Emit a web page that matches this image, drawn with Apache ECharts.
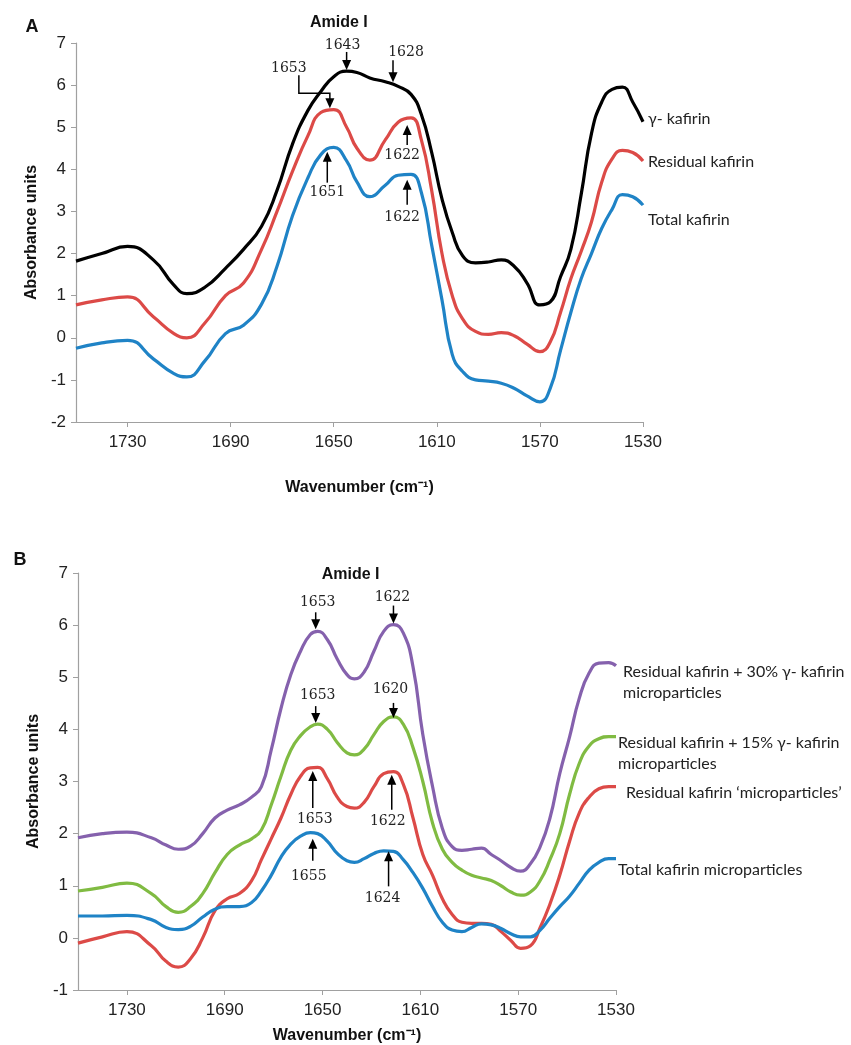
<!DOCTYPE html>
<html><head><meta charset="utf-8">
<script src="https://cdn.jsdelivr.net/npm/echarts@6/dist/echarts.min.js"></script>
<style>html,body{margin:0;padding:0;background:#fff}#c{width:851px;height:1045px}</style>
</head><body><div id="c"></div>
<script>
// ---------- Panel A data ----------
const wavenumbersA = [1750,1740,1730,1720,1712,1707,1700,1692,1685,1678,1672,1666,1660,1655,1650,1645,1641,1636,1630,1625,1620,1616,1612,1608,1604,1600,1595,1590,1585,1580,1575,1570,1566,1562,1558,1554,1550,1546,1542,1538,1534,1530];
const gammaKafirin = [1.82,2.0,2.17,1.85,1.25,1.05,1.2,1.65,2.1,2.65,3.5,4.6,5.4,5.85,6.2,6.33,6.3,6.17,6.08,5.97,5.78,5.3,4.4,3.3,2.5,1.95,1.78,1.8,1.85,1.7,1.3,0.78,0.85,1.45,2.1,3.4,4.85,5.6,5.9,5.95,5.6,5.13];
const residualKafirin = [0.78,0.9,0.97,0.5,0.1,0.0,0.35,1.0,1.3,2.1,3.0,3.95,4.8,5.35,5.42,5.0,4.5,4.22,4.7,5.12,5.22,4.7,3.5,2.0,1.0,0.45,0.15,0.08,0.12,0.05,-0.15,-0.33,-0.1,0.6,1.4,2.05,2.75,3.7,4.25,4.45,4.4,4.2];
const totalKafirin = [-0.25,-0.12,-0.06,-0.5,-0.85,-0.93,-0.55,0.1,0.3,0.8,1.7,2.9,3.8,4.35,4.52,4.2,3.7,3.35,3.62,3.86,3.88,3.45,2.2,0.9,-0.4,-0.8,-1.0,-1.03,-1.08,-1.2,-1.38,-1.52,-1.2,-0.3,0.6,1.4,2.0,2.6,3.05,3.4,3.35,3.15];

// ---------- Panel B data ----------
const wavenumbersB = [1750,1740,1730,1720,1714,1709,1704,1699,1694,1689,1684,1679,1675,1671,1667,1663,1659,1655,1652,1648,1644,1640,1637,1633,1629,1625,1621,1617,1613,1609,1605,1601,1597,1593,1589,1585,1581,1577,1573,1569,1565,1561,1557,1553,1549,1545,1541,1537,1533,1530];
const residual30 = [1.92,2.0,2.03,1.92,1.78,1.70,1.76,2.0,2.3,2.45,2.55,2.7,2.9,3.6,4.4,5.05,5.5,5.82,5.88,5.72,5.35,5.05,4.97,5.1,5.5,5.88,6.01,5.85,5.2,3.9,2.9,2.1,1.75,1.68,1.7,1.72,1.6,1.48,1.35,1.28,1.42,1.75,2.3,3.15,3.85,4.6,5.08,5.27,5.28,5.22];
const residual15 = [0.9,0.97,1.05,0.85,0.6,0.49,0.6,0.85,1.25,1.6,1.78,1.9,2.07,2.55,3.1,3.6,3.88,4.05,4.1,4.0,3.75,3.55,3.51,3.62,3.9,4.15,4.24,4.1,3.65,3.0,2.2,1.7,1.45,1.3,1.2,1.15,1.1,1.0,0.88,0.82,0.88,1.1,1.5,2.0,2.75,3.35,3.68,3.82,3.86,3.86];
const residualMicro = [-0.1,0.02,0.12,-0.15,-0.45,-0.56,-0.4,0.0,0.52,0.75,0.85,1.1,1.5,1.9,2.3,2.75,3.1,3.26,3.27,3.05,2.7,2.52,2.49,2.6,2.9,3.15,3.19,2.95,2.3,1.6,1.2,0.75,0.45,0.3,0.28,0.28,0.26,0.12,-0.05,-0.2,-0.15,0.2,0.65,1.2,1.85,2.4,2.7,2.86,2.9,2.9];
const totalMicro = [0.42,0.42,0.43,0.35,0.2,0.16,0.22,0.4,0.55,0.6,0.6,0.68,0.9,1.2,1.55,1.8,1.95,2.02,2.0,1.85,1.62,1.48,1.45,1.52,1.62,1.67,1.66,1.5,1.25,0.95,0.6,0.3,0.15,0.12,0.2,0.27,0.25,0.18,0.08,0.02,0.02,0.15,0.38,0.6,0.8,1.05,1.3,1.45,1.52,1.52];

// ---------- Labels / ticks ----------
const xTicks = [1730,1690,1650,1610,1570,1530];
const seriesNamesA = ['γ- kafirin','Residual kafirin','Total kafirin'];
const seriesNamesB = ['Residual kafirin + 30% γ- kafirin\nmicroparticles','Residual kafirin + 15% γ- kafirin\nmicroparticles','Residual kafirin ‘microparticles’','Total kafirin microparticles'];
// annotations: [text, wavenumber of arrow tip, absorbance of arrow tip, arrow kind]
const annotA = [['1643',1645,6.36,'down'],['1628',1627,6.07,'down'],['1653',1651.5,5.45,'bracket'],['1651',1652.5,4.42,'up'],['1622',1621.5,5.05,'up'],['1622',1621.5,3.75,'up']];
const annotB = [['1653',1652.8,5.92,'down'],['1622',1621,6.03,'down'],['1653',1652.8,4.12,'down'],['1620',1621,4.22,'down'],['1653',1654,3.2,'up'],['1622',1621.7,3.13,'up'],['1655',1654,1.9,'up'],['1624',1623,1.66,'up']];

// ---------- styling (layout only) ----------
const annotLayoutA = [{len:18,tx:-4,ty:-25},{len:22,tx:13,ty:-30},{tx:-41,ty:-40},{len:31,tx:0,ty:41},{len:20,tx:-5,ty:30},{len:25,tx:-5,ty:37}];
const annotLayoutB = [{len:17,tx:2,ty:-27},{len:18,tx:-1,ty:-26},{len:17,tx:2,ty:-28},{len:15,tx:-3,ty:-29},{len:37,tx:2,ty:48},{len:35,tx:-4,ty:47},{len:22,tx:-4,ty:38},{len:35,tx:-6,ty:47}];
const colorsA = ['#000000','#dc4a47','#1f83c6'];
const colorsB = ['#8561ad','#80bb42','#dc4a47','#1f83c6'];
const endOffsetsA = [[5,-3],[5,1],[5,15]];
const endOffsetsB = [[7,17],[2,17],[10,6],[2,11]];

const chart = echarts.init(document.getElementById('c'), null, {renderer:'canvas'});
const SANS = '"Liberation Sans", Arial, sans-serif';
const LEG = 'Lato, "Open Sans", sans-serif';

function xAxisCfg(gi){
  return {type:'value', gridIndex:gi, inverse:true, min:1530, max:1750,
    name:'Wavenumber (cm⁻¹)', nameLocation:'middle', nameGap: gi===0?58:38,
    nameTextStyle:{fontFamily:SANS, fontWeight:'bold', fontSize:16, color:'#111'},
    axisLine:{show:true, onZero:false, lineStyle:{color:'#a0a0a0', width:1.2}},
    axisTick:{show:true, length:5, customValues:xTicks, lineStyle:{color:'#a0a0a0'}},
    axisLabel:{customValues:xTicks, formatter:(v)=>String(v), margin:12, fontFamily:SANS, fontSize:17, color:'#222'},
    splitLine:{show:false}};
}
function yAxisCfg(gi, mn){
  return {type:'value', gridIndex:gi, min:mn, max:7, interval:1,
    name:'Absorbance units', nameLocation:'middle', nameGap:34, nameRotate:90,
    nameTextStyle:{fontFamily:SANS, fontWeight:'bold', fontSize:16, color:'#111'},
    axisLine:{show:true, lineStyle:{color:'#a0a0a0', width:1.2}},
    axisTick:{show:true, length:5, lineStyle:{color:'#a0a0a0'}},
    axisLabel:{margin:10, fontFamily:SANS, fontSize:17, color:'#222'},
    splitLine:{show:false}};
}
function mkSeries(name, wn, vals, color, gi, off){
  return {type:'line', name:name.replace('\n',' '), xAxisIndex:gi, yAxisIndex:gi,
    data: wn.map((w,i)=>[w, vals[i]]), smooth:0.5, showSymbol:false, symbol:'none',
    lineStyle:{color, width:3.2}, itemStyle:{color},
    endLabel:{show:true, formatter:()=>name, offset:off, distance:0,
      fontFamily:LEG, fontSize:16, color:'#222', lineHeight:21, align:'left', verticalAlign:'middle'}};
}

const seriesA = [gammaKafirin, residualKafirin, totalKafirin];
const seriesB = [residual30, residual15, residualMicro, totalMicro];
const series = [];
seriesA.forEach((v,i)=>series.push(mkSeries(seriesNamesA[i], wavenumbersA, v, colorsA[i], 0, endOffsetsA[i])));
seriesB.forEach((v,i)=>series.push(mkSeries(seriesNamesB[i], wavenumbersB, v, colorsB[i], 1, endOffsetsB[i])));

chart.setOption({
  animation:false, backgroundColor:'#fff',
  grid:[{left:76, top:43, width:567, height:379}, {left:78, top:573, width:538, height:417}],
  xAxis:[xAxisCfg(0), xAxisCfg(1)],
  yAxis:[yAxisCfg(0,-2), yAxisCfg(1,-1)],
  series
});

// ---------- annotations (placed through the axes) ----------
const g = [];
function txt(s, x, y, font){ g.push({type:'text', style:{text:s, x, y, align:'center', verticalAlign:'middle', font, fill:'#222'}, z:20}); }
function head(x, y, dir){ const d = dir==='down'?-1:1; g.push({type:'polygon', shape:{points:[[x,y],[x-4.5,y+d*10],[x+4.5,y+d*10]]}, style:{fill:'#000'}, z:20}); }
function addAnnots(list, lay, gi){
  list.forEach((a,i)=>{
    const [t,w,v,kind] = a; const L = lay[i];
    const p = chart.convertToPixel({xAxisIndex:gi, yAxisIndex:gi}, [w, v]);
    const x = p[0], y = p[1];
    const font = '14px "DejaVu Serif", serif';
    if(kind==='bracket'){
      g.push({type:'polyline', shape:{points:[[x-31,y-33],[x-31,y-15],[x,y-15],[x,y-5]]}, style:{stroke:'#000', lineWidth:1.5, fill:null}, z:20});
      head(x, y, 'down');
    } else if(kind==='down'){
      g.push({type:'line', shape:{x1:x, y1:y-L.len, x2:x, y2:y-5}, style:{stroke:'#000', lineWidth:1.5}, z:20});
      head(x, y, 'down');
    } else {
      g.push({type:'line', shape:{x1:x, y1:y+L.len, x2:x, y2:y+5}, style:{stroke:'#000', lineWidth:1.5}, z:20});
      head(x, y, 'up');
    }
    txt(t, x+L.tx, y+L.ty, font);
  });
}
addAnnots(annotA, annotLayoutA, 0);
addAnnots(annotB, annotLayoutB, 1);
// panel letters and region titles
const boldFont = 'bold 16px "Liberation Sans", Arial, sans-serif';
g.push({type:'text', style:{text:'A', x:32, y:27, align:'center', verticalAlign:'middle', font:'bold 18px "Liberation Sans", Arial, sans-serif', fill:'#111'}});
g.push({type:'text', style:{text:'B', x:20, y:560, align:'center', verticalAlign:'middle', font:'bold 18px "Liberation Sans", Arial, sans-serif', fill:'#111'}});
const amA = chart.convertToPixel({xAxisIndex:0, yAxisIndex:0}, [1648, 7]);
const amB = chart.convertToPixel({xAxisIndex:1, yAxisIndex:1}, [1638.5, 7]);
g.push({type:'text', style:{text:'Amide I', x:amA[0], y:23, align:'center', verticalAlign:'middle', font:boldFont, fill:'#111'}});
g.push({type:'text', style:{text:'Amide I', x:amB[0], y:575, align:'center', verticalAlign:'middle', font:boldFont, fill:'#111'}});
chart.setOption({graphic:g});
</script></body></html>
